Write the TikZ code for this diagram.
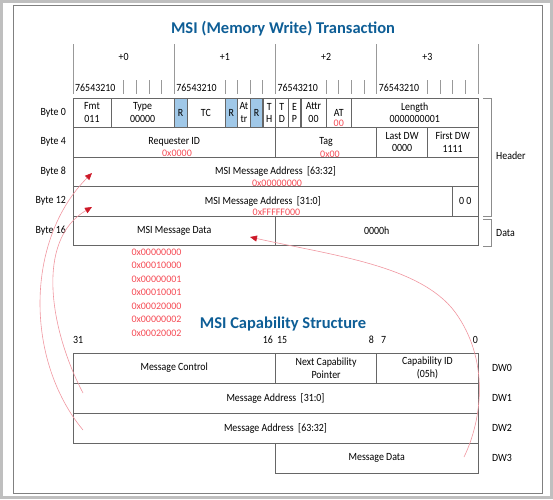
\documentclass[tikz,border=0pt]{standalone}
\usepackage{fontspec}
\setmainfont{Carlito}
\newfontfamily\condfont{Carlito}[FakeStretch=0.9]
\usetikzlibrary{positioning, arrows.meta}
\definecolor{titleblue}{RGB}{14,94,150}
\definecolor{valred}{RGB}{245,75,85}
\definecolor{linkred}{RGB}{240,150,160}
\definecolor{tipred}{RGB}{205,25,40}
\definecolor{resblue}{RGB}{160,200,232}
\newcommand{\tsz}{\condfont\fontsize{11}{12.5}\selectfont}
\newcommand{\vsz}{\fontsize{10}{11.5}\selectfont}

\begin{document}
\begin{tikzpicture}[x=1pt, y=-1pt,
	cell/.style={draw=black!60, line width=0.7pt, rectangle, inner sep=0pt, minimum height=29.5pt, font=\tsz, align=center},
	rsv/.style={cell, fill=resblue},
	val/.style={text=valred, font=\vsz, inner sep=0pt},
	lbl/.style={font=\tsz, inner sep=0pt},
	heading/.style={font=\bfseries\fontsize{16.5}{19}\selectfont, text=titleblue},
	tick/.style={draw=black!40, line width=0.7pt},
	brk/.style={draw=black!45, line width=0.7pt},
	link/.style={draw=linkred, line width=0.6pt, -{Triangle[length=7pt, width=6pt, color=tipred]}}]
	\useasboundingbox (0,0) rectangle (553,499);
	\draw[black!25, line width=3pt] (1.5,1.5) rectangle (551.5,497.5);
	\draw[black!50, line width=0.8pt] (13,5) rectangle (542,493);

	% transaction header
	\node[heading] (ttitle) at (283,29) {MSI (Memory Write) Transaction};
	\foreach \x in {73,174.25,275.5,376.75,478}
		\draw[tick] (\x,44) -- (\x,94);
	\foreach \b in {73,174.25,275.5,376.75}
		\foreach \k in {4,...,7}
			\draw[tick] ({\b+\k*12.656},80) -- ++(0,14);
	\foreach \n/\x in {0/73,1/174.25,2/275.5,3/376.75} {
		\node[lbl] (off\n) at ({\x+50.6},57) {+\n};
		\node[lbl, anchor=west] (bits\n) at ({\x+2},88) {76543210};
	}

	\foreach \i/\y in {0/112.75,4/142.25,8/171.75,12/201.25,16/231}
		\node[lbl, anchor=east] (byte\i) at (66,\y) {Byte \i};

	% byte 0
	\node[cell, minimum width=38pt] (fmt) at (92,112.75) {Fmt\\011};
	\node[cell, minimum width=63pt] (type) at (142.6,112.75) {Type\\00000};
	\node[rsv, minimum width=12.65pt] (rsv1) at (180.6,112.75) {R};
	\node[cell, minimum width=37.95pt] (tc) at (205.9,112.75) {TC};
	\node[rsv, minimum width=12.65pt] (rsv2) at (231.2,112.75) {R};
	\node[cell, minimum width=12.65pt] (attrb) at (243.9,112.75) {At\\tr};
	\node[rsv, minimum width=12.65pt] (rsv3) at (256.5,112.75) {R};
	\node[cell, minimum width=12.65pt] (th) at (269.2,112.75) {T\\H};
	\node[cell, minimum width=12.65pt] (td) at (281.8,112.75) {T\\D};
	\node[cell, minimum width=12.65pt] (ep) at (294.5,112.75) {E\\P};
	\node[cell, minimum width=25.3pt] (attr) at (313.5,112.75) {Attr\\00};
	\node[cell, minimum width=25.3pt] (at) at (338.8,112.75) {AT};
	\node[val] (atval) at (338.8,123) {00};
	\node[cell, minimum width=126.6pt] (len) at (414.7,112.75) {Length\\0000000001};

	% byte 4
	\node[cell, minimum width=202.5pt] (reqid) at (174.25,142.25) {Requester ID};
	\node[val] (reqval) at (177,153) {0x0000};
	\node[cell, minimum width=101.25pt] (tag) at (326.1,142.25) {Tag};
	\node[val] (tagval) at (330,154.5) {0x00};
	\node[cell, minimum width=50.6pt] (lastdw) at (402.05,142.25) {Last DW\\0000};
	\node[cell, minimum width=50.6pt] (firstdw) at (452.7,142.25) {First DW\\1111};

	% byte 8 to byte 16
	\node[cell, minimum width=405pt] (addrhi) at (275.5,171.75) {MSI Message Address~~[63:32]};
	\node[val] (addrhival) at (277,183) {0x00000000};
	\node[cell, minimum width=379.7pt] (addrlo) at (262.85,201.25) {MSI Message Address~~[31:0]};
	\node[val] (addrloval) at (276.5,212.5) {0xFFFFF000};
	\node[cell, minimum width=25.3pt] (zeros) at (465.35,201.25) {0 0};
	\node[cell, minimum width=202.5pt] (data) at (174.25,231) {MSI Message Data};
	\node[cell, minimum width=202.5pt] (dataval) at (376.75,231) {0000h};

	\draw[brk] (483,98) -- (491.5,98) -- (491.5,216) -- (483,216);
	\draw[brk] (483,219) -- (491.5,219) -- (491.5,246) -- (483,246);
	\node[lbl, anchor=west] (hdr) at (496,156) {Header};
	\node[lbl, anchor=west] (dat) at (496,233) {Data};

	\foreach \v [count=\i] in {0x00000000,0x00010000,0x00000001,0x00010001,0x00020000,0x00000002,0x00020002}
		\node[val] (hex\i) at (156.5,{252+(\i-1)*13.55}) {\v};

	% capability structure
	\node[heading] (ctitle) at (283,324) {MSI Capability Structure};
	\node[lbl, anchor=west] (b31) at (73,340) {31};
	\node[lbl, anchor=east] (b16) at (273,340) {16};
	\node[lbl, anchor=west] (b15) at (277,340) {15};
	\node[lbl, anchor=east] (b8) at (374,340) {8};
	\node[lbl, anchor=west] (b7) at (381,340) {7};
	\node[lbl, anchor=east] (b0) at (478,340) {0};

	\node[cell, minimum height=30pt, minimum width=202.5pt] (msgctl) at (174.25,368) {Message Control};
	\node[cell, minimum height=30pt, minimum width=101.25pt] (nextcap) at (326.1,368) {Next Capability\\Pointer};
	\node[cell, minimum height=30pt, minimum width=101.25pt] (capid) at (427.4,368) {Capability ID\\(05h)};
	\node[cell, minimum height=30pt, minimum width=405pt] (msgaddrlo) at (275.5,398) {Message Address~~[31:0]};
	\node[cell, minimum height=30pt, minimum width=405pt] (msgaddrhi) at (275.5,428) {Message Address~~[63:32]};
	\node[cell, minimum height=30pt, minimum width=202.5pt] (msgdata) at (376.75,458) {Message Data};
	\foreach \i/\y in {0/368,1/398,2/428,3/458}
		\node[lbl] (dw\i) at (502,\y) {DW\i};

	% links
	\coordinate (srchi) at (83,430);
	\coordinate (srclo) at (83,393);
	\coordinate (srcdata) at (464,457);
	\coordinate (tiphi) at (92,173);
	\coordinate (tiplo) at (92,207);
	\coordinate (tipdata) at (250,237);
	\draw[link] (srchi) .. controls (25,360) and (25,240) .. (tiphi);
	\draw[link] (srclo) .. controls (50,330) and (35,240) .. (tiplo);
	\draw[link] (srcdata) .. controls (482,420) and (490,360) .. (455,312) .. controls (420,265) and (330,255) .. (tipdata);
\end{tikzpicture}
\end{document}
